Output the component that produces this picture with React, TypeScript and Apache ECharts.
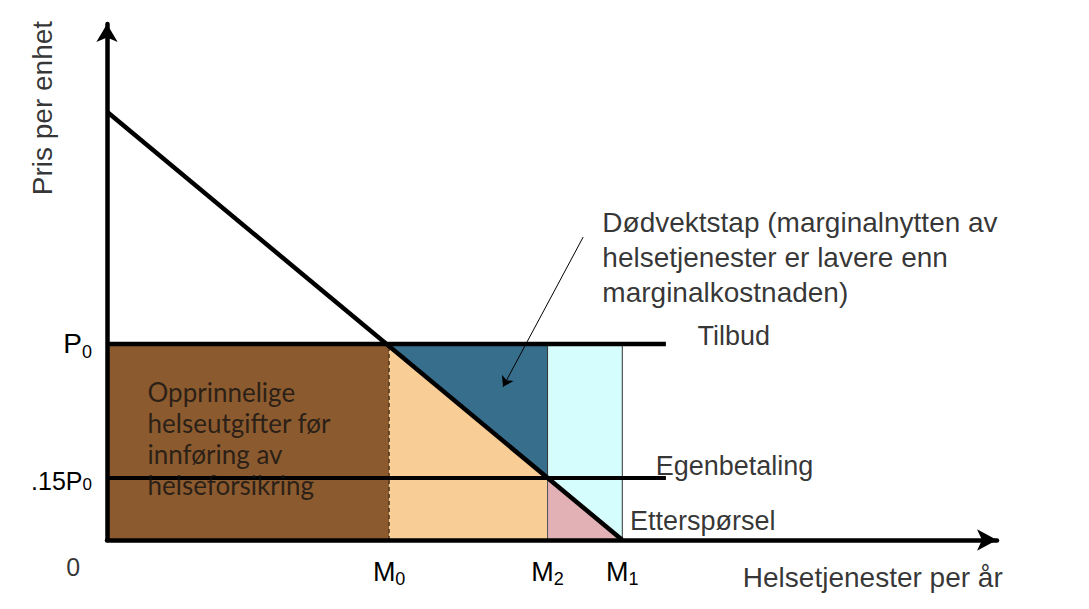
import { useEffect, useRef } from "react";
import * as echarts from "echarts";

// ---- data (axes run 0..100 in both directions) ----
const quantityLabels = ["M0", "M2", "M1"];
const quantityValues = [31.7, 49.5, 57.9];
const priceLabels = [".15P0", "P0"];
const priceValues = [12, 38];
const demandIntercept = 83; // price where demand meets the price axis
const priceLineEnd = 62.8; // where the supply / co-payment lines stop

const noteTexts = [
  "Dødvektstap (marginalnytten av\nhelsetjenester er lavere enn\nmarginalkostnaden)",
  "Tilbud",
  "Egenbetaling",
  "Etterspørsel",
  "Opprinnelige\nhelseutgifter før\ninnføring av\nhelseforsikring",
  "0",
  "Pris per enhet",
  "Helsetjenester per år",
];
const noteAnchors = [
  [55.6, 54.8],
  [66.3, 39.5],
  [61.6, 14.3],
  [58.7, 3.7],
  [4.5, 19.7],
  [-3.8, -5.2],
  [-7.3, 83.7],
  [100.7, -7.2],
];
const pointerFrom = [53.5, 58.7];
const pointerTo = [44.5, 29.7];

const [M0, M2, M1] = quantityValues;
const [E, P0] = priceValues;

const regionPolygons = [
  [[0, 0], [M0, 0], [M0, P0], [0, P0]],
  [[M0, 0], [M2, 0], [M2, E], [M0, P0]],
  [[M0, P0], [M2, P0], [M2, E]],
  [[M2, 0], [M1, 0], [M1, P0], [M2, P0]],
  [[M2, 0], [M1, 0], [M2, E]],
];

const regionStyles = [
  { fill: "#8B5A2E", stroke: null, lineWidth: 0 },
  { fill: "#F8CD96", stroke: null, lineWidth: 0 },
  { fill: "#376E8C", stroke: null, lineWidth: 0 },
  { fill: "#D6FDFD", stroke: "#333", lineWidth: 1 },
  { fill: "#E1B1B5", stroke: "#555", lineWidth: 1 },
];

const SANS = "'Liberation Sans', Arial, sans-serif";

const noteLabelStyles: any[] = [
  { position: "right", distance: 0, fontSize: 28, lineHeight: 35, align: "left" },
  { position: "right", distance: 0, fontSize: 27 },
  { position: "right", distance: 0, fontSize: 27 },
  { position: "right", distance: 0, fontSize: 27 },
  { position: "right", distance: 0, fontSize: 26, lineHeight: 31, fontFamily: "Lato, 'Open Sans', sans-serif", color: "#111", align: "left" },
  { position: "inside", fontSize: 25 },
  { position: "inside", fontSize: 28, rotate: 90 },
  { position: "left", distance: 0, fontSize: 28 },
];

export default function App() {
  const ref = useRef<HTMLDivElement>(null);

  useEffect(() => {
    if (!ref.current) return;
    const chart = echarts.init(ref.current, undefined, { renderer: "svg" });

    const axisLineStyle = { color: "#000", width: 4.5 };

    const option: any = {
      animation: false,
      backgroundColor: "#fff",
      grid: { left: 107, right: 92, top: 24, bottom: 69 },
      xAxis: {
        type: "value",
        min: 0,
        max: 100,
        z: 10,
        splitLine: { show: false },
        axisTick: { show: false },
        axisLine: {
          show: true,
          onZero: false,
          symbol: ["none", "arrow"],
          symbolSize: [16, 20],
          lineStyle: axisLineStyle,
        },
        axisLabel: {
          show: true,
          customValues: quantityValues,
          margin: 16,
          formatter: (v: number) => {
            const i = quantityValues.indexOf(v);
            const t = i >= 0 ? quantityLabels[i] : "";
            return "{m|" + t.slice(0, -1) + "}{s|" + t.slice(-1) + "}";
          },
          rich: {
            m: { fontSize: 27, lineHeight: 32, fontFamily: SANS, color: "#000" },
            s: { fontSize: 18, lineHeight: 18, verticalAlign: "bottom", fontFamily: SANS, color: "#000" },
          },
        },
      },
      yAxis: {
        type: "value",
        min: 0,
        max: 100,
        z: 10,
        splitLine: { show: false },
        axisTick: { show: false },
        axisLine: {
          show: true,
          onZero: false,
          symbol: ["none", "arrow"],
          symbolSize: [16, 18],
          lineStyle: axisLineStyle,
        },
        axisLabel: {
          show: true,
          customValues: priceValues,
          margin: 15,
          formatter: (v: number) => {
            const i = priceValues.indexOf(v);
            const t = i >= 0 ? priceLabels[i] : "";
            const big = t === "P0";
            const a = big ? "a" : "b";
            const s = big ? "as" : "bs";
            return "{" + a + "|" + t.slice(0, -1) + "}{" + s + "|" + t.slice(-1) + "}";
          },
          rich: {
            a: { fontSize: 28, lineHeight: 34, fontFamily: SANS, color: "#000" },
            as: { fontSize: 18, lineHeight: 18, verticalAlign: "bottom", fontFamily: SANS, color: "#000" },
            b: { fontSize: 25, lineHeight: 30, padding: [20, 0, 0, 0], verticalAlign: "bottom", fontFamily: SANS, color: "#000" },
            bs: { fontSize: 17, lineHeight: 16, verticalAlign: "bottom", fontFamily: SANS, color: "#000" },
          },
        },
      },
      series: [
        {
          type: "custom",
          name: "regions",
          z: 1,
          silent: true,
          data: regionPolygons.map((_, i) => [i]),
          renderItem: (params: any, api: any) => {
            const i = params.dataIndex;
            const pts = regionPolygons[i].map((p) => api.coord(p));
            const st = regionStyles[i];
            return {
              type: "polygon",
              shape: { points: pts },
              style: {
                fill: st.fill,
                stroke: st.stroke || undefined,
                lineWidth: st.lineWidth,
              },
            };
          },
        },
        {
          type: "line",
          name: "M0 divider",
          z: 2,
          symbol: "none",
          silent: true,
          data: [[M0, 0], [M0, P0]],
          lineStyle: { color: "#3a2410", width: 1.2, type: [4, 3] },
        },
        {
          type: "line",
          name: "Etterspørsel",
          z: 3,
          symbol: "none",
          silent: true,
          data: [[0, demandIntercept], [M1, 0]],
          lineStyle: { color: "#000", width: 4.5 },
        },
        {
          type: "line",
          name: "Tilbud",
          z: 3,
          symbol: "none",
          silent: true,
          data: [[0, P0], [priceLineEnd, P0]],
          lineStyle: { color: "#000", width: 4.5 },
        },
        {
          type: "line",
          name: "Egenbetaling",
          z: 3,
          symbol: "none",
          silent: true,
          data: [[0, E], [priceLineEnd, E]],
          lineStyle: { color: "#000", width: 4 },
        },
        {
          type: "lines",
          coordinateSystem: "cartesian2d",
          z: 4,
          silent: true,
          symbol: ["none", "arrow"],
          symbolSize: 10,
          lineStyle: { color: "#000", width: 1, opacity: 1 },
          data: [{ coords: [pointerFrom, pointerTo] }],
        },
        {
          type: "scatter",
          name: "notes",
          z: 6,
          clip: false,
          silent: true,
          symbolSize: 1,
          itemStyle: { color: "rgba(0,0,0,0)" },
          data: noteAnchors.map((p, i) => ({
            value: p,
            name: noteTexts[i],
            label: {
              show: true,
              formatter: noteTexts[i],
              color: "#000",
              fontFamily: SANS,
              ...noteLabelStyles[i],
            },
          })),
        },
      ],
    };

    chart.setOption(option);
    return () => chart.dispose();
  }, []);

  return (
    <div
      ref={ref}
      style={{ position: "absolute", left: 0, top: 0, width: 1089, height: 609, background: "#fff" }}
    />
  );
}
